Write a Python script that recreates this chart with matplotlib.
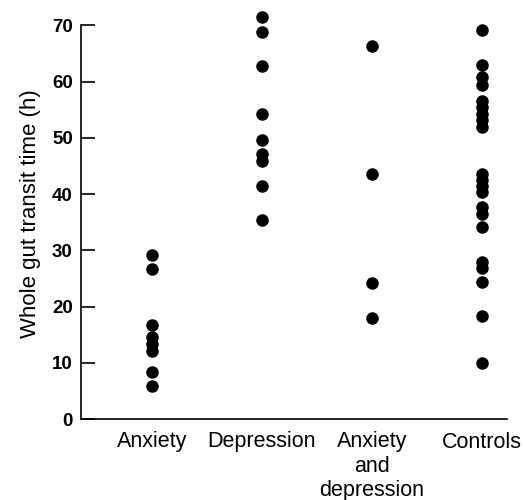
import numpy as np
import matplotlib.pyplot as plt

plt.rcParams['font.family'] = ['Liberation Sans', 'DejaVu Sans']

# groups and transit times (h)
groups = ['Anxiety', 'Depression', 'Anxiety\nand\ndepression', 'Controls']
anxiety = [29.2, 26.7, 16.8, 14.5, 13.3, 12.1, 8.4, 5.9]
depression = [71.5, 68.8, 62.8, 54.2, 49.6, 47.2, 45.9, 41.4, 35.3]
anx_dep = [66.4, 43.6, 24.1, 17.9]
controls = [69.2, 62.9, 60.8, 59.4, 56.5, 55.4, 54.2, 53.2, 52.0,
            43.6, 42.5, 41.4, 40.4, 37.7, 36.5, 34.1,
            28.0, 26.8, 24.4, 18.3, 9.9]
yticks = [0, 10, 20, 30, 40, 50, 60, 70]

fig = plt.figure(figsize=(5.23, 5.0), dpi=100)
ax = fig.add_axes([0.155, 0.162, 0.814, 0.821])

for i, vals in enumerate([anxiety, depression, anx_dep, controls]):
    ax.plot(np.full(len(vals), i + 1), vals, 'o', color='black',
            markersize=8, clip_on=False)

ax.set_xlim(0.355, 4.227)
ax.set_ylim(0, 73)
ax.spines['top'].set_visible(False)
ax.spines['right'].set_visible(False)
ax.spines['left'].set_bounds(0, 70)
for s in ['left', 'bottom']:
    ax.spines[s].set_linewidth(1.2)

ax.set_yticks(yticks)
ax.set_yticklabels([str(t) for t in yticks], fontsize=13.5, fontweight='bold')
ax.tick_params(axis='y', direction='in', length=10, width=1.2, pad=6)
ax.set_xticks([1, 2, 3, 4])
ax.set_xticklabels(groups, fontsize=15.5, linespacing=1.2)
ax.tick_params(axis='x', length=0, pad=9)
ax.set_ylabel('Whole gut transit time (h)', fontsize=16, labelpad=8)

fig.savefig('out.png', dpi=100)
